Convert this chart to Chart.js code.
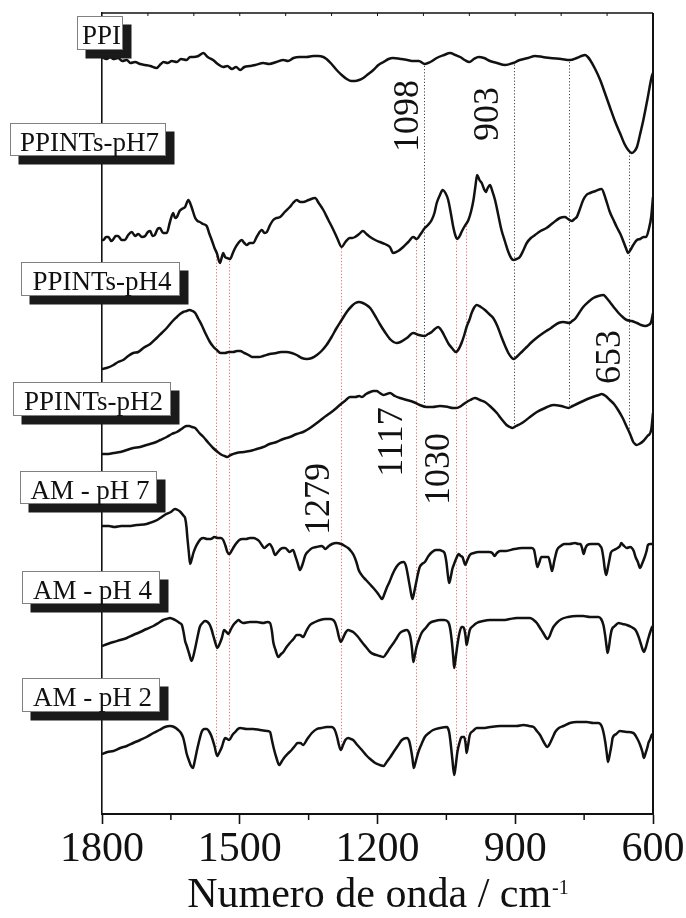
<!DOCTYPE html>
<html>
<head>
<meta charset="utf-8">
<script src="https://cdn.jsdelivr.net/npm/chart.js@4.4.1/dist/chart.umd.min.js"></script>
<style>
  html, body { margin: 0; padding: 0; background: #ffffff; }
  #wrap { width: 686px; height: 918px; position: relative; }
</style>
</head>
<body>
<div id="wrap"><canvas id="c" width="686" height="918"></canvas></div>
<script>
// FTIR spectra (transmittance, stacked, a.u.) against wavenumber in cm-1

const seriesNames = ['PPI', 'PPINTs-pH7', 'PPINTs-pH4', 'PPINTs-pH2', 'AM - pH 7', 'AM - pH 4', 'AM - pH 2'];

const xTicks = [1800, 1500, 1200, 900, 600];
const xMinorTicks = [1650, 1350, 1050, 750];
const xTopTicks = [1700, 1600, 1500, 1400, 1300, 1200, 1100, 1000, 900, 800, 700];

// [wavenumber, transmittance] pairs
const ppi = [[1800,757],[1790,755],[1782,757],[1775,755],[1765,756],[1756,753],[1746,754],[1738,751],[1728,752],[1717,750],[1706,749],[1695,748],[1681,746],[1672,750],[1666,752],[1657,751],[1648,753],[1637,752],[1628,755],[1616,754],[1608,757],[1601,757],[1590,758],[1579,761],[1570,757],[1558,754],[1548,750],[1536,747],[1527,748],[1517,745],[1508,747],[1499,744],[1490,747],[1478,748],[1466,749],[1449,751],[1436,750],[1420,752],[1405,754],[1395,753],[1383,756],[1370,757],[1354,757],[1340,758],[1329,758],[1318,757],[1311,755],[1300,750],[1289,744],[1278,739],[1267,735],[1257,733],[1249,733],[1240,734],[1231,736],[1220,740],[1209,744],[1198,749],[1187,752],[1176,755],[1166,756],[1150,755],[1135,754],[1122,753],[1110,753],[1097,750],[1085,752],[1071,756],[1055,759],[1042,761],[1030,759],[1020,757],[1010,754],[1000,752],[990,755],[980,757],[968,756],[955,753],[940,751],[922,749],[905,751],[890,754],[872,756],[857,758],[840,757],[824,756],[800,755],[781,754],[766,756],[756,758],[748,759],[742,757],[737,754],[726,745],[715,734],[704,720],[694,707],[683,693],[672,681],[662,670],[654,664],[646,661],[640,663],[635,667],[628,680],[621,694],[612,715],[603,737],[600,741]];

const ppintsPH7 = [[1800,574],[1797,574],[1791,577],[1786,577],[1780,573],[1775,575],[1770,578],[1765,578],[1757,574],[1750,574],[1743,579],[1735,582],[1728,578],[1721,580],[1713,577],[1706,578],[1700,582],[1695,583],[1690,578],[1685,579],[1679,585],[1674,586],[1667,581],[1659,581],[1652,592],[1645,601],[1641,596],[1637,597],[1631,603],[1626,605],[1619,607],[1612,614],[1605,607],[1597,596],[1592,593],[1587,592],[1580,590],[1572,588],[1566,580],[1561,574],[1555,566],[1550,561],[1543,551],[1539,557],[1536,561],[1532,557],[1528,556],[1521,555],[1515,561],[1510,566],[1503,571],[1496,574],[1490,571],[1485,569],[1478,571],[1471,571],[1462,578],[1452,584],[1446,581],[1441,582],[1434,589],[1427,594],[1420,596],[1412,597],[1402,602],[1391,607],[1384,611],[1376,614],[1368,612],[1362,612],[1350,614],[1336,616],[1328,611],[1318,604],[1307,594],[1296,584],[1287,575],[1278,567],[1270,572],[1260,576],[1255,576],[1249,577],[1240,580],[1232,583],[1224,580],[1216,577],[1205,574],[1195,572],[1184,570],[1173,567],[1166,561],[1155,563],[1144,567],[1133,572],[1122,577],[1115,575],[1106,580],[1097,586],[1090,589],[1082,594],[1076,601],[1071,611],[1064,619],[1058,624],[1052,621],[1046,614],[1040,600],[1035,587],[1030,578],[1026,575],[1021,578],[1017,582],[1010,588],[1002,594],[996,603],[991,614],[987,627],[983,639],[978,634],[973,631],[968,625],[964,622],[960,626],[955,629],[950,623],[944,614],[937,599],[930,584],[922,572],[915,562],[909,556],[904,554],[897,555],[890,557],[882,564],[875,571],[866,576],[857,579],[845,583],[832,586],[818,591],[803,596],[792,597],[785,595],[777,593],[771,595],[766,597],[760,604],[752,614],[745,619],[737,621],[725,623],[712,625],[703,615],[694,602],[686,594],[679,587],[671,580],[664,572],[659,566],[654,561],[648,565],[643,569],[635,574],[628,575],[620,577],[615,577],[609,585],[604,597],[600,617]];

const ppintsPH4 = [[1800,445],[1790,446],[1775,449],[1765,452],[1754,454],[1743,458],[1732,461],[1721,462],[1710,466],[1695,470],[1681,476],[1670,481],[1659,486],[1648,492],[1637,497],[1630,500],[1623,502],[1616,503],[1610,504],[1603,503],[1597,501],[1590,495],[1583,489],[1574,480],[1565,472],[1557,467],[1550,464],[1542,461],[1532,461],[1524,462],[1514,462],[1506,463],[1499,463],[1490,461],[1481,459],[1473,457],[1467,457],[1458,457],[1449,458],[1435,460],[1420,461],[1410,462],[1398,462],[1387,461],[1376,459],[1365,456],[1354,455],[1343,456],[1332,459],[1322,463],[1311,469],[1300,477],[1289,486],[1278,494],[1267,502],[1256,508],[1248,511],[1240,512],[1232,511],[1224,509],[1216,506],[1205,498],[1195,490],[1184,482],[1173,475],[1165,472],[1158,471],[1150,472],[1136,476],[1122,481],[1110,479],[1097,478],[1090,480],[1082,482],[1075,485],[1068,487],[1060,483],[1053,477],[1045,470],[1038,466],[1029,462],[1023,465],[1017,471],[1011,479],[1006,487],[1000,494],[995,501],[990,506],[984,509],[975,507],[966,504],[957,500],[948,496],[939,488],[930,477],[922,468],[915,461],[909,457],[904,455],[895,458],[886,462],[875,467],[864,472],[851,477],[839,481],[822,486],[806,491],[795,492],[782,491],[776,493],[770,495],[761,501],[752,507],[741,512],[730,516],[719,518],[708,519],[701,516],[694,512],[684,506],[675,501],[666,497],[657,494],[646,493],[635,491],[626,489],[617,488],[610,489],[604,492],[600,501]];

const ppintsPH2 = [[1800,360],[1790,360],[1775,361],[1760,362],[1746,364],[1732,366],[1717,367],[1703,369],[1688,371],[1673,374],[1659,377],[1648,380],[1637,382],[1627,385],[1621,387],[1616,388],[1610,388],[1604,387],[1597,386],[1588,381],[1579,377],[1568,371],[1558,366],[1548,362],[1539,359],[1533,358],[1528,357],[1520,359],[1507,361],[1492,362],[1478,363],[1463,365],[1449,367],[1435,370],[1420,372],[1405,375],[1391,377],[1376,380],[1362,382],[1347,386],[1332,391],[1318,396],[1303,401],[1292,405],[1282,409],[1271,413],[1260,417],[1248,417],[1240,418],[1234,417],[1225,420],[1216,422],[1209,423],[1202,423],[1195,421],[1187,419],[1180,420],[1173,421],[1162,418],[1151,416],[1136,414],[1122,412],[1108,409],[1093,407],[1080,407],[1064,408],[1046,407],[1036,406],[1028,406],[1018,408],[1009,411],[998,414],[988,416],[977,414],[966,412],[953,407],[940,401],[930,395],[919,389],[912,387],[906,386],[898,388],[889,390],[882,392],[868,397],[853,402],[835,406],[817,409],[800,408],[784,406],[775,408],[766,410],[752,413],[737,416],[725,418],[718,419],[712,420],[703,418],[694,414],[685,410],[676,404],[666,396],[657,387],[650,380],[643,372],[639,370],[636,369],[630,370],[621,373],[612,378],[604,384],[600,401]];

const amPH7 = [[1800,288],[1785,288],[1773,287],[1758,288],[1742,288],[1725,289],[1703,290],[1690,292],[1680,294],[1670,297],[1660,300],[1650,302],[1641,305],[1635,304],[1629,302],[1622,298],[1619,296],[1616,287],[1614,276],[1611,262],[1608,250],[1605,254],[1601,261],[1596,267],[1590,272],[1585,275],[1579,276],[1571,275],[1563,275],[1555,277],[1548,276],[1541,276],[1536,274],[1531,268],[1527,262],[1523,260],[1518,263],[1513,267],[1507,271],[1501,274],[1494,275],[1486,275],[1478,276],[1470,276],[1464,275],[1458,273],[1452,269],[1447,266],[1441,268],[1435,270],[1429,266],[1423,259],[1417,262],[1411,265],[1406,266],[1401,266],[1396,264],[1392,262],[1388,263],[1384,264],[1379,258],[1374,251],[1369,244],[1363,250],[1357,259],[1350,263],[1342,266],[1333,267],[1322,268],[1318,267],[1314,265],[1306,268],[1299,270],[1290,271],[1279,270],[1271,268],[1264,266],[1258,263],[1252,259],[1246,252],[1241,244],[1233,238],[1225,234],[1217,230],[1209,226],[1200,221],[1194,217],[1190,215],[1185,220],[1180,226],[1174,232],[1167,240],[1159,247],[1151,251],[1143,252],[1138,248],[1134,239],[1129,226],[1124,215],[1120,222],[1116,231],[1112,240],[1108,247],[1103,250],[1097,252],[1089,258],[1081,262],[1073,264],[1065,264],[1059,263],[1054,261],[1050,252],[1047,240],[1044,231],[1040,238],[1037,245],[1034,249],[1029,255],[1023,260],[1019,258],[1015,257],[1012,253],[1009,249],[1005,253],[999,259],[990,261],[980,262],[970,262],[957,262],[950,261],[945,258],[940,261],[933,263],[920,263],[902,265],[885,266],[871,266],[864,266],[859,264],[856,257],[852,247],[848,251],[843,257],[835,257],[828,257],[824,251],[820,243],[815,253],[809,264],[801,268],[793,270],[782,270],[770,271],[762,270],[758,270],[754,265],[751,260],[747,266],[743,269],[735,270],[725,270],[719,270],[715,268],[712,266],[708,256],[705,245],[702,239],[698,247],[695,254],[692,261],[685,264],[677,266],[672,268],[669,271],[665,269],[657,266],[650,267],[646,266],[642,263],[638,257],[633,252],[628,246],[624,250],[618,257],[614,263],[611,269],[606,270],[603,270],[600,270]];

const amPH4 = [[1800,168],[1788,170],[1775,172],[1760,174],[1746,176],[1732,179],[1717,182],[1703,185],[1688,188],[1677,191],[1667,194],[1660,195],[1652,196],[1645,195],[1637,193],[1631,191],[1626,189],[1622,181],[1619,173],[1616,169],[1610,160],[1605,153],[1601,158],[1597,166],[1592,177],[1587,187],[1581,191],[1576,193],[1570,192],[1565,189],[1561,184],[1558,179],[1553,171],[1549,166],[1544,170],[1539,176],[1534,184],[1529,182],[1525,180],[1519,185],[1514,189],[1508,192],[1503,194],[1497,192],[1492,191],[1478,192],[1463,192],[1449,191],[1440,192],[1434,191],[1430,183],[1427,172],[1422,164],[1416,157],[1410,160],[1405,162],[1398,167],[1391,171],[1383,175],[1376,179],[1369,179],[1362,177],[1355,183],[1347,189],[1336,192],[1325,194],[1314,195],[1303,195],[1293,192],[1288,185],[1284,177],[1280,172],[1275,176],[1270,181],[1264,184],[1258,183],[1253,182],[1244,178],[1234,172],[1225,167],[1216,162],[1209,160],[1202,159],[1195,158],[1187,157],[1180,161],[1173,166],[1165,171],[1158,176],[1151,181],[1144,183],[1136,184],[1131,181],[1128,176],[1125,166],[1122,152],[1119,158],[1115,167],[1110,174],[1104,181],[1095,186],[1086,191],[1075,193],[1064,194],[1055,194],[1046,192],[1042,186],[1038,172],[1035,157],[1033,146],[1030,155],[1026,169],[1022,180],[1017,187],[1014,187],[1011,185],[1008,177],[1006,169],[1003,175],[999,184],[992,188],[984,191],[970,193],[955,194],[940,194],[926,194],[912,195],[897,196],[882,196],[868,196],[860,194],[853,191],[846,186],[839,181],[834,177],[830,175],[825,178],[821,183],[817,187],[810,191],[799,195],[785,197],[766,198],[752,198],[737,197],[728,197],[719,197],[713,195],[708,189],[704,178],[701,167],[699,161],[696,167],[693,177],[690,184],[683,188],[675,191],[666,190],[657,189],[647,187],[638,184],[632,178],[627,171],[623,165],[620,162],[616,166],[613,171],[610,176],[606,182],[603,186],[600,188]];

const amPH2 = [[1800,60],[1788,62],[1775,63],[1760,66],[1746,68],[1732,71],[1717,74],[1703,77],[1688,81],[1675,84],[1663,87],[1652,88],[1643,87],[1634,84],[1628,81],[1623,76],[1619,68],[1616,61],[1611,54],[1606,48],[1602,46],[1598,53],[1594,62],[1589,72],[1583,82],[1577,85],[1572,85],[1566,82],[1561,77],[1555,68],[1549,58],[1545,61],[1539,67],[1535,73],[1532,76],[1527,75],[1523,74],[1516,79],[1510,82],[1504,85],[1499,86],[1485,85],[1471,85],[1456,84],[1440,83],[1434,82],[1430,74],[1425,64],[1420,56],[1414,49],[1408,53],[1402,57],[1394,61],[1387,64],[1380,68],[1374,71],[1368,71],[1362,69],[1353,75],[1343,81],[1332,85],[1322,86],[1311,87],[1300,87],[1293,84],[1288,77],[1284,69],[1280,64],[1275,69],[1270,74],[1264,76],[1258,75],[1253,74],[1244,69],[1234,64],[1225,59],[1216,55],[1205,51],[1195,49],[1187,48],[1180,52],[1172,57],[1165,62],[1156,68],[1147,74],[1136,76],[1131,73],[1128,67],[1124,56],[1121,46],[1117,52],[1111,62],[1104,70],[1097,77],[1088,81],[1079,84],[1064,86],[1049,87],[1044,82],[1041,72],[1037,55],[1033,39],[1030,47],[1026,62],[1021,72],[1017,77],[1011,77],[1008,70],[1006,61],[1003,68],[999,79],[992,83],[984,86],[970,86],[955,87],[933,88],[911,88],[897,88],[882,89],[870,88],[860,87],[853,83],[846,79],[838,72],[830,67],[824,71],[818,77],[813,82],[805,86],[795,88],[781,91],[766,92],[752,92],[744,92],[730,91],[719,91],[712,88],[708,82],[704,72],[701,62],[698,52],[694,60],[690,70],[688,76],[680,80],[672,83],[658,82],[643,81],[635,76],[628,69],[623,62],[620,56],[616,61],[612,67],[610,71],[606,75],[603,79],[600,80]];

const spectra = [ppi, ppintsPH7, ppintsPH4, ppintsPH2, amPH7, amPH4, amPH2];

// band positions marked with dotted guide lines (cm-1)
const polymerBands = [1098, 903, 782, 653];
const dyeBands = [1552, 1523, 1279, 1117, 1030, 1007];
// band labels written beside the guide lines
const bandLabels = ['1098', '903', '653', '1117', '1030', '1279'];

// ---------- presentation ----------
const SERIF = "'Liberation Serif', 'Times New Roman', serif";
const nameBoxes = [
  { x: 77,  y: 16,  w: 46,  h: 34 },
  { x: 10,  y: 123, w: 156, h: 33 },
  { x: 21,  y: 262, w: 159, h: 34 },
  { x: 13,  y: 382, w: 158, h: 34 },
  { x: 20,  y: 471, w: 137, h: 33 },
  { x: 22,  y: 571, w: 138, h: 33 },
  { x: 22,  y: 678, w: 138, h: 34 }
];
const bandLabelPlace = [
  { dx: -17, cy: 116 },
  { dx: -26, cy: 114 },
  { dx: -19, cy: 357 },
  { dx: -24, cy: 442 },
  { dx: -17, cy: 469 },
  { dx: -23, cy: 499 }
];

function valueAt(series, wn) {
  for (let i = 0; i < series.length - 1; i++) {
    const a = series[i], b = series[i + 1];
    if ((wn <= a[0] && wn >= b[0])) {
      const t = (a[0] - wn) / (a[0] - b[0]);
      return a[1] + t * (b[1] - a[1]);
    }
  }
  return series[series.length - 1][1];
}

const decorations = {
  id: 'decorations',
  beforeDatasetsDraw(chart) {
    const { ctx } = chart;
    const xs = chart.scales.x, ys = chart.scales.y;
    ctx.save();
    ctx.lineWidth = 1;
    ctx.setLineDash([1.2, 2]);
    // guide lines for the polymer bands: PPI down to PPINTs-pH2
    ctx.strokeStyle = '#444444';
    polymerBands.forEach(wn => {
      const x = Math.round(xs.getPixelForValue(wn)) + 0.5;
      ctx.beginPath();
      ctx.moveTo(x, ys.getPixelForValue(valueAt(ppi, wn)) + 2);
      ctx.lineTo(x, ys.getPixelForValue(valueAt(ppintsPH2, wn)) - 2);
      ctx.stroke();
    });
    // guide lines for the dye bands: PPINTs-pH7 down to AM - pH 2
    ctx.strokeStyle = '#ef6a6a';
    dyeBands.forEach(wn => {
      const x = Math.round(xs.getPixelForValue(wn)) + 0.5;
      ctx.beginPath();
      ctx.moveTo(x, ys.getPixelForValue(valueAt(ppintsPH7, wn)) + 2);
      ctx.lineTo(x, ys.getPixelForValue(valueAt(amPH2, wn)) - 2);
      ctx.stroke();
    });
    ctx.restore();
  },
  afterDraw(chart) {
    const { ctx, chartArea: ca } = chart;
    const xs = chart.scales.x;
    ctx.save();
    ctx.strokeStyle = '#111111';
    ctx.setLineDash([]);
    // top and right frame
    ctx.lineWidth = 1.6;
    ctx.beginPath();
    ctx.moveTo(ca.left, ca.top);
    ctx.lineTo(ca.right, ca.top);
    ctx.stroke();
    ctx.lineWidth = 2;
    ctx.beginPath();
    ctx.moveTo(ca.right, ca.top);
    ctx.lineTo(ca.right, ca.bottom);
    ctx.stroke();
    // minor ticks on the bottom axis, small inner ticks on the top edge
    ctx.lineWidth = 1.5;
    xMinorTicks.forEach(wn => {
      const x = xs.getPixelForValue(wn);
      ctx.beginPath();
      ctx.moveTo(x, ca.bottom);
      ctx.lineTo(x, ca.bottom + 6);
      ctx.stroke();
    });
    ctx.lineWidth = 1;
    xTopTicks.forEach(wn => {
      const x = xs.getPixelForValue(wn);
      ctx.beginPath();
      ctx.moveTo(x, ca.top);
      ctx.lineTo(x, ca.top + 3);
      ctx.stroke();
    });

    // axis title with superscript unit
    ctx.fillStyle = '#111111';
    ctx.textBaseline = 'alphabetic';
    ctx.textAlign = 'left';
    const main = 'Numero de onda / cm';
    const sup = '-1';
    ctx.font = '42px ' + SERIF;
    const wMain = ctx.measureText(main).width;
    ctx.font = '20px ' + SERIF;
    const wSup = ctx.measureText(sup).width;
    const x0 = (ca.left + ca.right) / 2 - (wMain + wSup) / 2;
    ctx.font = '42px ' + SERIF;
    ctx.fillText(main, x0, 907);
    ctx.font = '20px ' + SERIF;
    ctx.fillText(sup, x0 + wMain + 1, 894);

    // sample name boxes with drop shadow
    seriesNames.forEach((name, i) => {
      const b = nameBoxes[i];
      ctx.fillStyle = '#1a1a1a';
      ctx.fillRect(b.x + 8.5, b.y + 8.5, b.w, b.h);
      ctx.fillStyle = '#ffffff';
      ctx.fillRect(b.x, b.y, b.w, b.h);
      ctx.strokeStyle = '#808080';
      ctx.lineWidth = 1;
      ctx.strokeRect(b.x + 0.5, b.y + 0.5, b.w - 1, b.h - 1);
      ctx.fillStyle = '#111111';
      ctx.font = '27px ' + SERIF;
      ctx.textAlign = 'center';
      ctx.textBaseline = 'alphabetic';
      ctx.fillText(name, b.x + b.w / 2 + 1.5, b.y + 28);
    });

    // band labels, rotated
    const bandWn = bandLabels.map(Number);
    bandLabels.forEach((txt, i) => {
      const p = bandLabelPlace[i];
      const cx = xs.getPixelForValue(bandWn[i]) + p.dx;
      ctx.save();
      ctx.translate(cx, p.cy);
      ctx.rotate(-Math.PI / 2);
      ctx.fillStyle = '#111111';
      ctx.font = '36px ' + SERIF;
      ctx.textAlign = 'center';
      ctx.textBaseline = 'middle';
      ctx.fillText(txt, 0, 1);
      ctx.restore();
    });
    ctx.restore();
  }
};

const datasets = spectra.map((s, i) => ({
  label: seriesNames[i],
  data: s.map(p => ({ x: p[0], y: p[1] })),
  borderColor: '#111111',
  borderWidth: 2.5,
  pointRadius: 0,
  fill: false,
  cubicInterpolationMode: 'monotone'
}));

new Chart(document.getElementById('c'), {
  type: 'line',
  data: { datasets },
  options: {
    responsive: false,
    animation: false,
    devicePixelRatio: 1,
    layout: { padding: { top: 13, right: 33, left: 0, bottom: 0 } },
    plugins: { legend: { display: false }, tooltip: { enabled: false } },
    scales: {
      x: {
        type: 'linear',
        min: 600,
        max: 1800,
        reverse: true,
        position: 'bottom',
        afterBuildTicks: scale => { scale.ticks = xTicks.map(v => ({ value: v })); },
        afterFit: scale => { scale.height = 104; },
        ticks: {
          color: '#111111',
          font: { family: SERIF, size: 42, lineHeight: 1.2 },
          padding: 1,
          maxRotation: 0,
          autoSkip: false,
          callback: v => String(v)
        },
        grid: { display: true, drawOnChartArea: false, drawTicks: true, tickLength: 10, tickWidth: 1.6, tickColor: '#111111' },
        border: { display: true, color: '#111111', width: 2 }
      },
      y: {
        type: 'linear',
        min: 0,
        max: 801,
        position: 'left',
        afterFit: scale => { scale.width = 102; },
        ticks: { display: false },
        grid: { display: false },
        border: { display: true, color: '#111111', width: 1.6 }
      }
    }
  },
  plugins: [decorations]
});
</script>
</body>
</html>
